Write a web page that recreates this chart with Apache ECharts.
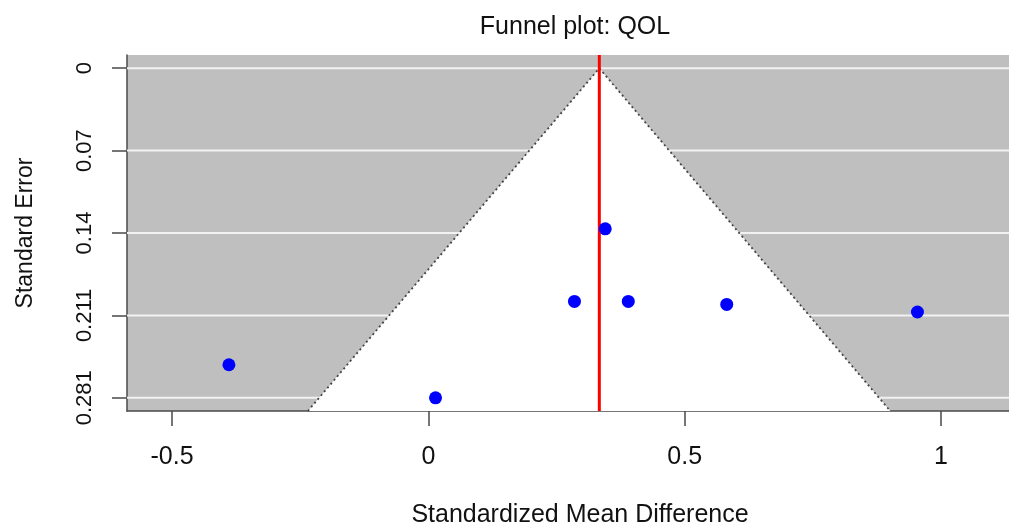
<!DOCTYPE html>
<html>
<head>
<meta charset="utf-8">
<script src="https://cdn.jsdelivr.net/npm/echarts@6/dist/echarts.min.js"></script>
<style>
html,body{margin:0;padding:0;background:#fff;}
#chart{width:1009px;height:527px;}
</style>
</head>
<body>
<div id="chart"></div>
<script>
// ---- data ----
const smd = [-0.389, 0.014, 0.285, 0.345, 0.390, 0.582, 0.954];
const se = [0.253, 0.2812, 0.199, 0.137, 0.199, 0.2015, 0.208];
const pooledEstimate = 0.3335;
const funnelSMD = [-0.235, 0.3335, 0.901];
const funnelSE = [0.29245, 0, 0.29245];
const seTickValues = [0, 0.0703, 0.1406, 0.2109, 0.2812];
const seTickLabels = ['0', '0.07', '0.14', '0.211', '0.281'];
const smdTickValues = [-0.5, 0, 0.5, 1];
const smdTickLabels = ['-0.5', '0', '0.5', '1'];
const xRange = [-0.5878, 1.1326];
const yRange = [-0.01125, 0.29245];

const FONT = '"Liberation Sans", Arial, Helvetica, sans-serif';
const points = smd.map((x, i) => [x, se[i]]);
const funnel = funnelSMD.map((x, i) => [x, funnelSE[i]]);

function labelFor(values, labels, v) {
  const i = values.findIndex(t => Math.abs(t - v) < 1e-6);
  return i >= 0 ? labels[i] : '';
}

const chart = echarts.init(document.getElementById('chart'), null, {renderer: 'canvas'});
chart.setOption({
  animation: false,
  backgroundColor: '#ffffff',
  title: {
    text: 'Funnel plot: QOL',
    left: 570,
    top: 10,
    textAlign: 'center',
    textStyle: {fontFamily: FONT, fontSize: 25, fontWeight: 'normal', color: '#111'}
  },
  grid: {
    left: 127, top: 55, right: 0, bottom: 116,
    show: true, backgroundColor: '#bfbfbf', borderWidth: 0,
    containLabel: false, outerBoundsMode: 'none'
  },
  xAxis: {
    type: 'value',
    min: xRange[0], max: xRange[1],
    name: 'Standardized Mean Difference',
    nameLocation: 'middle',
    nameGap: 92,
    nameTextStyle: {fontFamily: FONT, fontSize: 25, color: '#111', padding: [0, 0, 0, 24]},
    axisLine: {show: true, onZero: false, lineStyle: {color: '#4a4a4a', width: 1.5}},
    axisTick: {show: true, length: 15, inside: false, customValues: smdTickValues, lineStyle: {color: '#4a4a4a', width: 1.5}},
    axisLabel: {
      customValues: smdTickValues,
      margin: 34,
      fontFamily: FONT, fontSize: 25, color: '#111',
      formatter: v => labelFor(smdTickValues, smdTickLabels, v)
    },
    splitLine: {show: false}
  },
  yAxis: {
    type: 'value',
    inverse: true,
    min: yRange[0], max: yRange[1],
    name: 'Standard Error',
    nameLocation: 'middle',
    nameRotate: 90,
    nameGap: 90,
    nameTextStyle: {fontFamily: FONT, fontSize: 23, color: '#111'},
    axisLine: {show: true, onZero: false, lineStyle: {color: '#4a4a4a', width: 1.5}},
    axisTick: {show: true, length: 15, inside: false, customValues: seTickValues, lineStyle: {color: '#4a4a4a', width: 1.5}},
    axisLabel: {
      customValues: seTickValues,
      rotate: 90,
      margin: 31,
      fontFamily: FONT, fontSize: 22, color: '#111',
      formatter: v => labelFor(seTickValues, seTickLabels, v)
    },
    splitLine: {show: false}
  },
  series: [
    {
      name: 'gridlines',
      type: 'custom',
      z: 1,
      silent: true,
      data: seTickValues.map(v => [v]),
      encode: {y: 0},
      renderItem: (params, api) => {
        const v = api.value(0);
        const p1 = api.coord([xRange[0], v]);
        const p2 = api.coord([xRange[1], v]);
        return {type: 'line', shape: {x1: p1[0], y1: p1[1], x2: p2[0], y2: p2[1]},
                style: {stroke: '#f2f2f2', lineWidth: 2}};
      }
    },
    {
      name: 'funnel region',
      type: 'custom',
      z: 2,
      silent: true,
      data: [0],
      renderItem: (params, api) => {
        const pts = funnel.map(p => api.coord(p));
        return {type: 'polygon', shape: {points: pts}, style: {fill: '#ffffff'}};
      }
    },
    {
      name: 'funnel edges',
      type: 'line',
      z: 3,
      silent: true,
      data: funnel,
      symbol: 'none',
      lineStyle: {color: '#444', width: 1.8, type: [2, 3]}
    },
    {
      name: 'estimate',
      type: 'line',
      z: 4,
      silent: true,
      data: [[pooledEstimate, yRange[0]], [pooledEstimate, yRange[1]]],
      symbol: 'none',
      lineStyle: {color: '#ff0000', width: 3}
    },
    {
      name: 'studies',
      type: 'scatter',
      z: 5,
      data: points,
      symbol: 'circle',
      symbolSize: 13,
      itemStyle: {color: '#0000ff', opacity: 1}
    }
  ]
});
</script>
</body>
</html>
